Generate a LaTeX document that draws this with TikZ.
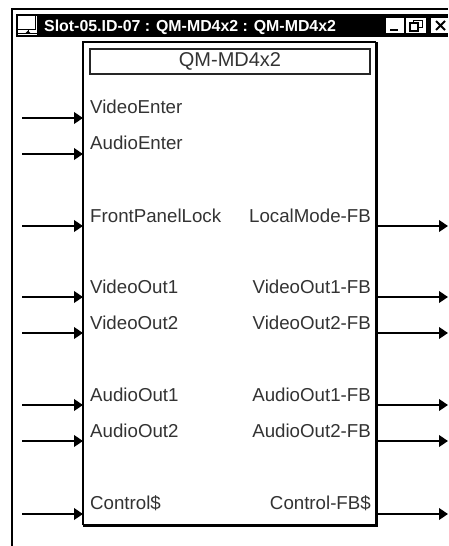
\documentclass[tikz,border=0pt]{standalone}
\usepackage{fontspec}
\setmainfont{Liberation Sans}
\usetikzlibrary{arrows.meta}
\tikzset{
  lab/.style={font=\fontsize{18.7}{21}\selectfont, text=black!80, inner sep=0pt, anchor=base west},
  labr/.style={font=\fontsize{18.7}{21}\selectfont, text=black!80, inner sep=0pt, anchor=base east},
  sig/.style={line width=2.4pt, -{Triangle[length=9pt,width=11.5pt]}},
  btn/.style={fill=white, draw=none, inner sep=0pt, anchor=north west}
}
\begin{document}
\begin{tikzpicture}[x=1pt,y=-1pt]
\useasboundingbox (0,0) rectangle (448,546);
\fill[white] (0,0) rectangle (448,546);
% window
\draw[line width=2.2pt] (12,546) -- (12,9) -- (448,9);
\fill[black] (16,14) rectangle (448,37);
% title icon
\fill[white] (18,15.5) rectangle (37,35);
\draw[black, line width=1pt] (18,29) -- (35,29) -- (35,15.5);
\draw[black, line width=1pt] (18,33.5) -- (37,33.5) (28,29) -- (28,33);
\fill[black] (25,33.5) -- (31,33.5) -- (28,30.5) -- cycle;
\node[font=\bfseries\fontsize{15.9}{18}\selectfont, text=white, inner sep=0pt, anchor=base west] (wt) at (44,31) {Slot-05.ID-07 : QM-MD4x2 : QM-MD4x2};
% buttons
\node[btn, minimum width=18pt, minimum height=15pt] (bmin) at (386,18) {};
\node[btn, minimum width=20pt, minimum height=15pt] (bmax) at (406,18) {};
\node[btn, minimum width=17pt, minimum height=15pt] (bcl) at (431,18) {};
\draw[black, line width=2pt] (390,30) -- (398,30);
\draw[black, line width=1.3pt] (410,23) rectangle (418,31);
\draw[black, line width=1pt] (413,23) -- (413,20) -- (422,20) -- (422,27) -- (418,27);
\draw[black, line width=2pt] (436,21) -- (445,30) (445,21) -- (436,30);
% block
\node[fill=white, minimum width=293pt, minimum height=483pt, inner sep=0pt, anchor=north west] (blk) at (83,42) {};
\draw[line width=1.3pt] (blk.south west) -- (blk.north west) -- (blk.north east);
\draw[line width=2.2pt] (blk.north east) -- (blk.south east) -- (blk.south west);
\node[draw=black!85, line width=1.3pt, minimum width=280pt, minimum height=25pt, inner sep=0pt, font=\fontsize{20}{22}\selectfont, text=black!80] (ttl) at (230,61.5) {QM-MD4x2};
% inputs
\foreach \n/\t/\ly/\ay in {a/VideoEnter/113/118,b/AudioEnter/149/154,c/FrontPanelLock/222/226,d/VideoOut1/293/297,e/VideoOut2/329/333,f/AudioOut1/401/405,g/AudioOut2/437/441,h/Control\$/509/514}{
  \node[lab] (in\n) at (90,\ly) {\t};
  \coordinate (s\n) at (22,\ay);
  \draw[sig] (s\n) -- (blk.west |- s\n);
}
% outputs
\foreach \n/\t/\ly/\ay in {c/LocalMode-FB/222/226,d/VideoOut1-FB/293/297,e/VideoOut2-FB/329/333,f/AudioOut1-FB/401/405,g/AudioOut2-FB/437/441,h/Control-FB\$/509/514}{
  \node[labr] (out\n) at (371,\ly) {\t};
  \coordinate (t\n) at (448,\ay);
  \draw[sig] (blk.east |- t\n) -- (t\n);
}
\end{tikzpicture}
\end{document}
